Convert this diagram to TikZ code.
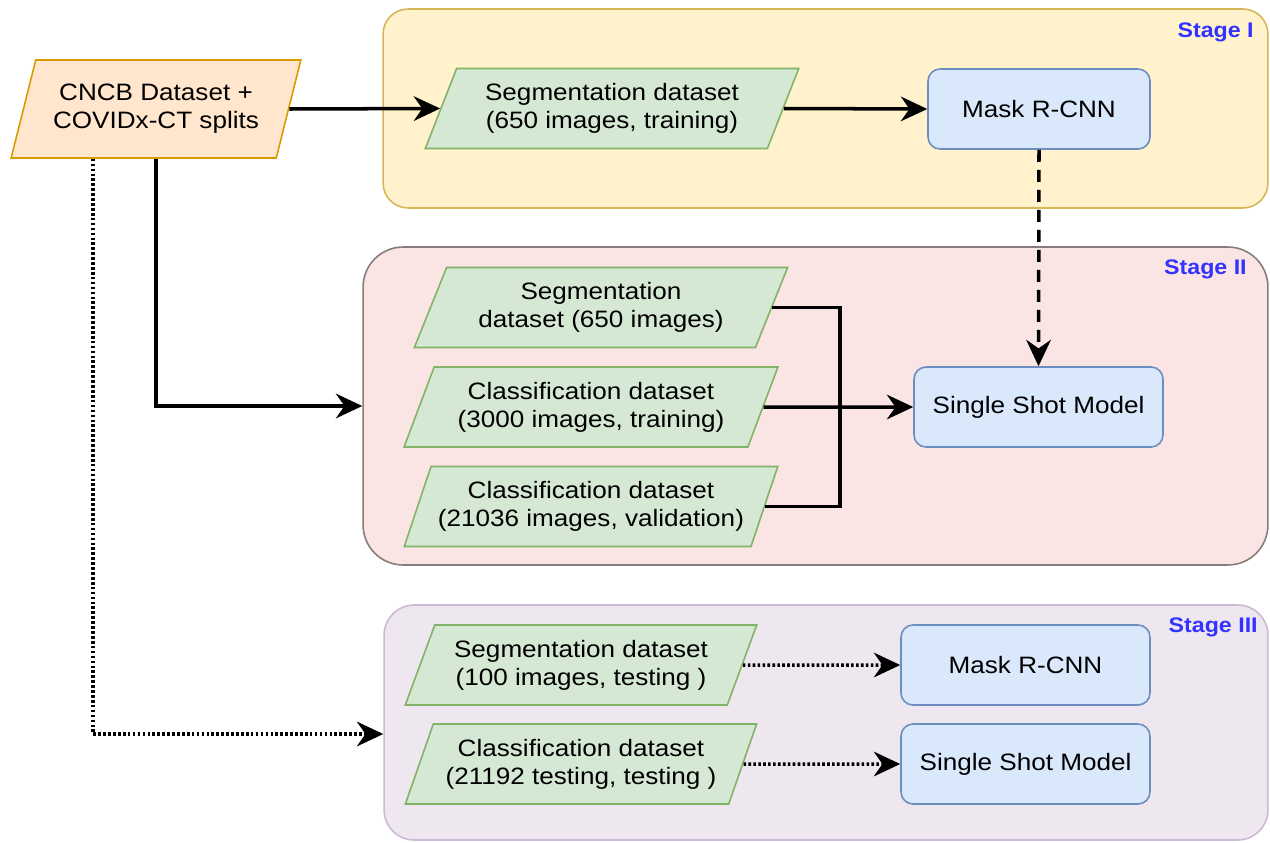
\documentclass[tikz,border=0pt]{standalone}
\usepackage{fontspec}
\setmainfont{Liberation Sans}[FakeStretch=1.1]
\usetikzlibrary{positioning, arrows.meta, shapes.geometric}

\definecolor{stIfill}{HTML}{FFF2CC}
\definecolor{stIline}{HTML}{D6B656}
\definecolor{stIIfill}{HTML}{FAE4E4}
\definecolor{stIIline}{HTML}{877C7C}
\definecolor{stIIIfill}{HTML}{EEE7F0}
\definecolor{stIIIline}{HTML}{CDB8D6}
\definecolor{srcfill}{HTML}{FFE6CC}
\definecolor{srcline}{HTML}{D79B00}
\definecolor{datafill}{HTML}{D5E8D4}
\definecolor{dataline}{HTML}{82B366}
\definecolor{modelfill}{HTML}{DAE8FC}
\definecolor{modelline}{HTML}{6C8EBF}
\definecolor{stagetext}{HTML}{3333FF}

\begin{document}
\begin{tikzpicture}
            [x=0.02cm, y=-0.02cm,
             stage/.style={rectangle, line width=0.9pt, inner sep=0pt},
             stagelabel/.style={anchor=east, inner sep=0pt, text=stagetext, font=\fontsize{12}{14}\selectfont\bfseries},
             data/.style={trapezium, trapezium left angle=63, trapezium right angle=117, trapezium stretches=true,
                          draw=dataline, fill=datafill, line width=0.9pt, minimum width=7.48cm, minimum height=1.6cm,
                          inner sep=0pt, align=center, font=\fontsize{13.5}{16}\selectfont},
             model/.style={rectangle, rounded corners=0.24cm, draw=modelline, fill=modelfill, line width=0.9pt,
                           minimum width=4.98cm, minimum height=1.6cm, inner sep=0pt, align=center, font=\fontsize{13.5}{16}\selectfont},
             wire/.style={line width=2pt},
             dots/.style={wire, dash pattern=on 1.5pt off 1.3pt},
             >={Stealth[length=15pt, width=14pt]}]

            \useasboundingbox (0,0) rectangle (1270,842);

            \node[stage, draw=stIline, fill=stIfill, rounded corners=0.5cm, minimum width=17.7cm, minimum height=3.98cm] (st1) at (825.5,108.5) {};
            \node[stage, draw=stIIline, fill=stIIfill, rounded corners=0.8cm, minimum width=18.1cm, minimum height=6.36cm] (st2) at (815.5,406) {};
            \node[stage, draw=stIIIline, fill=stIIIfill, rounded corners=0.6cm, minimum width=17.68cm, minimum height=4.7cm] (st3) at (826,722.5) {};

            \node[stagelabel] (lab1) at (1254,32) {Stage I};
            \node[stagelabel] (lab2) at (1247,269) {Stage II};
            \node[stagelabel] (lab3) at (1258,627) {Stage III};

            \node[data, trapezium left angle=67, trapezium right angle=113, draw=srcline, fill=srcfill,
                  minimum width=5.8cm, minimum height=1.96cm] (src) at (156,109) {CNCB Dataset +\\COVIDx-CT splits};

            \node[data] (seg1) at (612,108.5) {Segmentation dataset\\(650 images, training)};
            \node[model, minimum width=4.44cm] (mask1) at (1039,109) {Mask R-CNN};

            \node[data] (seg2) at (601,307.5) {Segmentation\\dataset (650 images)};
            \node[data] (cls2) at (591,407) {Classification dataset\\(3000 images, training)};
            \node[data] (val2) at (591,506.5) {Classification dataset\\(21036 images, validation)};
            \node[model] (ssm2) at (1038.5,407) {Single Shot Model};
            \coordinate (join) at (840,407);

            \node[data, minimum width=7.04cm] (seg3) at (581,665) {Segmentation dataset\\(100 images, testing )};
            \node[data, minimum width=7.04cm] (cls3) at (581,764) {Classification dataset\\(21192 testing, testing )};
            \node[model] (mask3) at (1025.5,665) {Mask R-CNN};
            \node[model] (ssm3) at (1025.5,764) {Single Shot Model};

            \draw[wire, ->] (src.east) -- (seg1.west);
            \draw[wire, ->] (seg1.east) -- (mask1.west);
            \draw[wire, ->, dash pattern=on 0.24cm off 0.16cm] (mask1.south) -- (ssm2.north);
            \draw[wire, ->] (src.south) |- (st2.west);
            \draw[dots, ->] ([xshift=-1.26cm]src.south) |- ([yshift=-0.23cm]st3.west);

            \draw[wire] (seg2.east) -| (join) |- (val2.east);
            \draw[wire, ->] (cls2.east) -- (ssm2.west);

            \draw[dots, ->] (seg3.east) -- (mask3.west);
            \draw[dots, ->] (cls3.east) -- (ssm3.west);
        \end{tikzpicture}
\end{document}
